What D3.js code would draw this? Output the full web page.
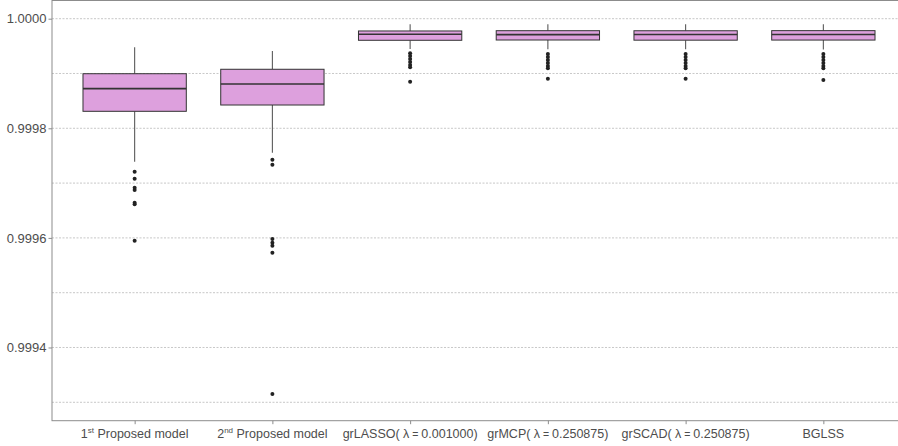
<!DOCTYPE html>
<html>
<head>
<meta charset="utf-8">
<script src="https://cdn.jsdelivr.net/npm/d3@7"></script>
<style>
  html, body { margin: 0; padding: 0; background: #fff; }
  svg { display: block; font-family: "Liberation Sans", Arial, Helvetica, sans-serif; }
</style>
</head>
<body>
<svg id="chart" width="898" height="446"></svg>
<script>
// ---- Data ----
const categories = ["1st Proposed model", "2nd Proposed model", "grLASSO", "grMCP", "grSCAD", "BGLSS"];
// label parts: [text, superscript, rest]
const labelMain = ["1", "2", "grLASSO( ", "grMCP( ", "grSCAD( ", "BGLSS"];
const labelSup = ["st", "nd", "", "", "", ""];
const labelLambda = ["", "", "0.001000", "0.250875", "0.250875", ""];

const whiskerLow = [0.999739, 0.9997555, 0.9999447, 0.9999442, 0.9999442, 0.9999440];
const q1 = [0.999831, 0.9998425, 0.9999606, 0.9999611, 0.9999608, 0.9999610];
const median = [0.9998723, 0.9998808, 0.9999715, 0.9999710, 0.9999712, 0.9999712];
const q3 = [0.9998996, 0.9999077, 0.9999776, 0.9999781, 0.9999780, 0.9999782];
const whiskerHigh = [0.9999478, 0.999941, 0.9999898, 0.9999898, 0.9999898, 0.9999898];

const outliers = [
  [0.9997208, 0.999708, 0.9996916, 0.9996874, 0.9996642, 0.9996613, 0.9995949],
  [0.9997427, 0.9997336, 0.999598, 0.9995912, 0.9995858, 0.999573, 0.9993151],
  [0.9999369, 0.9999319, 0.9999265, 0.999921, 0.9999155, 0.9999113, 0.999885],
  [0.9999356, 0.9999301, 0.9999246, 0.9999192, 0.9999137, 0.9999095, 0.9998903],
  [0.9999356, 0.9999301, 0.9999246, 0.9999192, 0.9999137, 0.9999095, 0.9998903],
  [0.9999356, 0.9999301, 0.9999246, 0.9999192, 0.9999137, 0.9999095, 0.9998881]
];

const yTicks = [0.9994, 0.9996, 0.9998, 1.0000];
const yGrid = [0.9993, 0.9994, 0.9995, 0.9996, 0.9997, 0.9998, 0.9999, 1.0000];

// ---- Layout ----
const panel = { left: 52, right: 906, top: 0.5, bottom: 420.7 };
const svg = d3.select("#chart");

const x = d3.scaleLinear().domain([0.4, 6.6]).range([panel.left, panel.right]);
const y = d3.scaleLinear().domain([0.99926642, 1.0000332]).range([panel.bottom, panel.top]);
const unit = x(2) - x(1);
const boxW = unit * 0.75;

// gridlines
svg.append("g").selectAll("line").data(yGrid).join("line")
  .attr("x1", panel.left).attr("x2", panel.right)
  .attr("y1", d => y(d)).attr("y2", d => y(d))
  .attr("stroke", "#b0b0b0").attr("stroke-width", 0.7)
  .attr("stroke-dasharray", "2,1.5");

// boxes
const g = svg.append("g");
categories.forEach((c, i) => {
  const cx = x(i + 1);
  // whiskers
  g.append("line").attr("x1", cx).attr("x2", cx)
    .attr("y1", y(q3[i])).attr("y2", y(whiskerHigh[i]))
    .attr("stroke", "#5a5a5a").attr("stroke-width", 1.1);
  g.append("line").attr("x1", cx).attr("x2", cx)
    .attr("y1", y(q1[i])).attr("y2", y(whiskerLow[i]))
    .attr("stroke", "#5a5a5a").attr("stroke-width", 1.1);
  // box
  g.append("rect")
    .attr("x", cx - boxW / 2).attr("width", boxW)
    .attr("y", y(q3[i])).attr("height", y(q1[i]) - y(q3[i]))
    .attr("fill", "#DDA0DD").attr("stroke", "#333").attr("stroke-width", 1);
  // median
  g.append("line").attr("x1", cx - boxW / 2).attr("x2", cx + boxW / 2)
    .attr("y1", y(median[i])).attr("y2", y(median[i]))
    .attr("stroke", "#333").attr("stroke-width", 1.6);
  // outliers
  g.selectAll(null).data(outliers[i]).join("circle")
    .attr("cx", cx).attr("cy", d => y(d)).attr("r", 2)
    .attr("fill", "#222");
});

// panel border
svg.append("rect")
  .attr("x", panel.left).attr("y", panel.top)
  .attr("width", panel.right - panel.left).attr("height", panel.bottom - panel.top)
  .attr("fill", "none").attr("stroke", "#8c8c8c").attr("stroke-width", 1);

// y axis
const yAxis = svg.append("g").attr("transform", `translate(${panel.left},0)`)
  .call(d3.axisLeft(y).tickValues(yTicks).tickFormat(d3.format(".4f")).tickSize(3.5).tickPadding(2));
yAxis.select(".domain").remove();
yAxis.selectAll(".tick line").attr("stroke", "#8c8c8c");
yAxis.selectAll(".tick text").attr("fill", "#4d4d4d").style("font-size", "13px")
  .style("font-family", '"Liberation Sans", Arial, sans-serif');

// x axis ticks
const xAxis = svg.append("g").attr("transform", `translate(0,${panel.bottom})`)
  .call(d3.axisBottom(x).tickValues(d3.range(1, categories.length + 1)).tickSize(3.5).tickFormat(""));
xAxis.select(".domain").remove();
xAxis.selectAll(".tick line").attr("stroke", "#8c8c8c");

// x labels with superscripts / lambda
categories.forEach((c, i) => {
  const t = svg.append("text")
    .attr("x", x(i + 1)).attr("y", 438)
    .attr("text-anchor", "middle")
    .attr("fill", "#4d4d4d").style("font-size", "12.5px");
  t.append("tspan").text(labelMain[i]);
  if (labelSup[i]) {
    t.append("tspan").attr("dy", -5).style("font-size", "8px").text(labelSup[i]);
    t.append("tspan").attr("dy", 5).text(" Proposed model");
  }
  if (labelLambda[i]) {
    t.append("tspan").text("λ");
    t.append("tspan").style("font-size", "10.5px").text(" = ");
    t.append("tspan").text(labelLambda[i] + ")");
  }
});
</script>
</body>
</html>
